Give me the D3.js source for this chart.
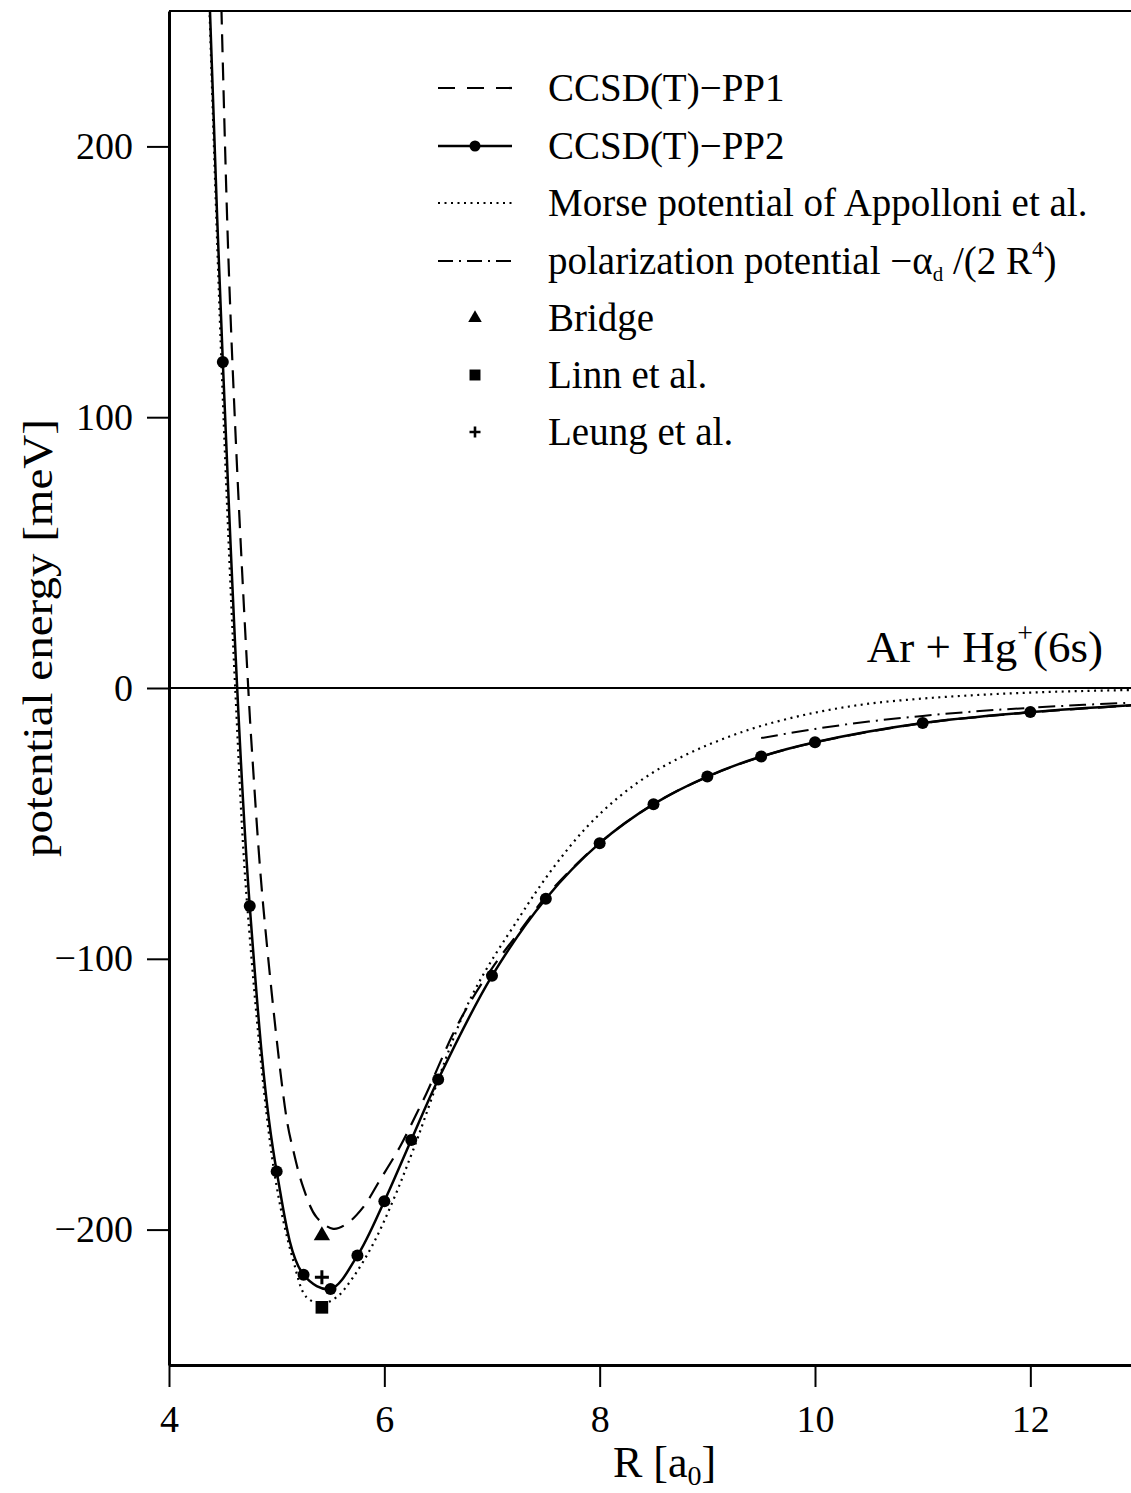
<!DOCTYPE html>
<html>
<head>
<meta charset="utf-8">
<script src="https://cdnjs.cloudflare.com/ajax/libs/d3/7.8.5/d3.min.js"></script>
<style>
  body { margin: 0; background: #fff; }
  svg { display: block; }
  text { font-family: "Liberation Serif", "Times New Roman", serif; fill: #000; }
</style>
</head>
<body>
<svg id="chart" width="1131" height="1493"></svg>
<script>
// CCSD(T)-PP2 computed points (drawn with dots)
var pp2R = [4.5, 4.75, 5.0, 5.25, 5.5, 5.75, 6.0, 6.25, 6.5, 7.0, 7.5, 8.0, 8.5, 9.0, 9.5, 10.0, 11.0, 12.0];
var pp2E = [120.4, -80.5, -178.5, -216.7, -221.9, -209.6, -189.5, -166.9, -144.6, -106.3, -77.8, -57.3, -42.9, -32.7, -25.3, -20.0, -12.9, -8.9];
// ends of the PP2 line beyond the dots
var pp2EndR = [4.37, 13.0];
var pp2EndE = [262, -6.2];

// CCSD(T)-PP1 (dashed)
var pp1R = [4.48, 4.55, 4.63, 4.736, 4.77, 4.876, 5.09, 5.154, 5.246, 5.37, 5.525, 5.649, 5.804, 5.958, 6.144, 6.299, 6.39, 6.64, 6.79, 7.0, 7.32, 7.5, 8.0, 8.5, 9.0, 9.5, 10.0, 11.0, 12.0, 13.0];
var pp1E = [262, 160.9, 83.2, 0, -22.8, -80.8, -158.4, -170.7, -184.3, -195.4, -199.7, -197.9, -191.7, -181.8, -169.5, -157.2, -149.8, -127.6, -116.5, -103.5, -86.5, -77.0, -57.2, -42.9, -32.8, -25.4, -20.1, -13.0, -9.0, -6.3];

// Morse potential of Appolloni et al. (dotted)
var morseR = [4.37, 4.49, 4.615, 4.727, 4.977, 5.154, 5.278, 5.42, 5.556, 5.71, 5.896, 6.082, 6.267, 6.793, 7.257, 7.567, 7.877, 8.186, 8.495, 8.805, 9.114, 9.5, 10.0, 10.5, 11.0, 11.5, 12.0, 12.5, 13.0];
var morseE = [258, 117, 0, -80.5, -178.5, -211.4, -225.0, -227.2, -225.0, -217.6, -205.3, -189.2, -170.7, -115.3, -84.5, -66.5, -51.5, -40.0, -31.2, -24.6, -19.3, -14.0, -9.1, -5.8, -3.9, -2.6, -1.7, -1.1, -0.7];

// polarization potential (dash-dot)
var polR = [9.5, 10.0, 10.5, 11.0, 11.5, 12.0, 12.5, 13.0];
var polE = [-18.5, -15.1, -12.4, -10.3, -8.6, -7.3, -6.2, -5.3];

// single literature values
var refNames = ['Bridge', 'Linn et al.', 'Leung et al.'];
var refR = [5.42, 5.42, 5.42];
var refE = [-202.2, -228.7, -217.6];

var xMajor = [4, 6, 8, 10, 12];
var xMinor = [4.5, 5, 5.5, 6.5, 7, 7.5, 8.5, 9, 9.5, 10.5, 11, 11.5, 12.5];
var yMajor = [-200, -100, 0, 100, 200];
var yMinor = [-240, -220, -180, -160, -140, -120, -80, -60, -40, -20, 20, 40, 60, 80, 120, 140, 160, 180, 220, 240];

d3.select(window).on('load', init);

function zip(a, b) {
    return a.map(function(v, i) { return [v, b[i]]; });
}

function init() {
    var svg = d3.select('#chart');

    var left = 169, right = 1138, top = 11, bottom = 1365;

    var x = d3.scaleLinear().domain([4, 13]).range([left, right]);
    var y = d3.scaleLinear().domain([-250, 250]).range([bottom, top]);

    var fmt = function(d) { return d < 0 ? '\u2212' + Math.abs(d) : '' + d; };

    svg.append('defs').append('clipPath').attr('id', 'plotclip')
        .append('rect')
        .attr('x', left).attr('y', top)
        .attr('width', right - left).attr('height', bottom - top);

    // top frame and zero line
    svg.append('line')
        .attr('x1', left).attr('x2', 1131).attr('y1', top).attr('y2', top)
        .attr('stroke', '#000').attr('stroke-width', 2);
    svg.append('line')
        .attr('x1', left).attr('x2', 1131).attr('y1', y(0)).attr('y2', y(0))
        .attr('stroke', '#000').attr('stroke-width', 2);

    var plot = svg.append('g').attr('clip-path', 'url(#plotclip)');

    var line = d3.line()
        .x(function(d) { return x(d[0]); })
        .y(function(d) { return y(d[1]); })
        .curve(d3.curveCatmullRom.alpha(0.5));

    plot.append('path')
        .datum(zip(morseR, morseE))
        .attr('d', line)
        .attr('fill', 'none').attr('stroke', '#000')
        .attr('stroke-width', 2.2).attr('stroke-dasharray', '2,4.5');

    plot.append('path')
        .datum(zip(polR, polE))
        .attr('d', line)
        .attr('fill', 'none').attr('stroke', '#000')
        .attr('stroke-width', 2).attr('stroke-dasharray', '17,6,2,6');

    plot.append('path')
        .datum(zip(pp1R, pp1E))
        .attr('d', line)
        .attr('fill', 'none').attr('stroke', '#000')
        .attr('stroke-width', 2.2).attr('stroke-dasharray', '18,10');

    var pp2Line = [[pp2EndR[0], pp2EndE[0]]]
        .concat(zip(pp2R, pp2E))
        .concat([[pp2EndR[1], pp2EndE[1]]]);
    plot.append('path')
        .datum(pp2Line)
        .attr('d', line)
        .attr('fill', 'none').attr('stroke', '#000')
        .attr('stroke-width', 2.5);

    plot.selectAll('circle.pp2')
        .data(zip(pp2R, pp2E))
        .enter()
        .append('circle')
        .attr('class', 'pp2')
        .attr('cx', function(d) { return x(d[0]); })
        .attr('cy', function(d) { return y(d[1]); })
        .attr('r', 6);

    // literature points
    var refs = zip(refR, refE);
    plot.append('path')
        .attr('d', d3.symbol(d3.symbolTriangle, 115)())
        .attr('transform', 'translate(' + x(refs[0][0]) + ',' + y(refs[0][1]) + ')');
    plot.append('path')
        .attr('d', d3.symbol(d3.symbolSquare, 160)())
        .attr('transform', 'translate(' + x(refs[1][0]) + ',' + y(refs[1][1]) + ')');
    plot.append('path')
        .attr('d', 'M-7,0H7M0,-7V7')
        .attr('stroke', '#000').attr('stroke-width', 3)
        .attr('transform', 'translate(' + x(refs[2][0]) + ',' + y(refs[2][1]) + ')');

    // axes
    var gx = svg.append('g').attr('transform', 'translate(0,' + bottom + ')');
    gx.call(d3.axisBottom(x).tickValues(xMinor).tickSize(11).tickSizeOuter(0).tickFormat(''));
    gx.call(d3.axisBottom(x).tickValues(xMajor).tickSize(22).tickSizeOuter(0).tickPadding(18).tickFormat(fmt));

    var gy = svg.append('g').attr('transform', 'translate(' + left + ',0)');
    gy.call(d3.axisLeft(y).tickValues(yMinor).tickSize(11).tickSizeOuter(0).tickFormat(''));
    gy.call(d3.axisLeft(y).tickValues(yMajor).tickSize(22).tickSizeOuter(0).tickPadding(14).tickFormat(fmt));

    svg.selectAll('.tick line').attr('stroke-width', 2);
    svg.selectAll('.domain').attr('stroke-width', 3);
    svg.selectAll('.tick text')
        .style('font-family', '"Liberation Serif", "Times New Roman", serif')
        .style('font-size', '38px');

    // axis titles
    var xt = svg.append('text')
        .attr('x', 613).attr('y', 1477)
        .attr('text-anchor', 'start')
        .style('font-size', '44px');
    xt.append('tspan').text('R [a');
    xt.append('tspan').attr('dy', 8).style('font-size', '28px').text('0');
    xt.append('tspan').attr('dy', -8).text(']');

    svg.append('text')
        .attr('transform', 'translate(52,638) scale(1,1.12) rotate(-90)')
        .attr('text-anchor', 'middle')
        .style('font-size', '42px')
        .text('potential energy [meV]');

    // asymptote label
    var asy = svg.append('text')
        .attr('x', 1103).attr('y', 662)
        .attr('text-anchor', 'end')
        .style('font-size', '45px');
    asy.append('tspan').text('Ar + Hg');
    asy.append('tspan').attr('dy', -20).style('font-size', '28px').text('+');
    asy.append('tspan').attr('dy', 20).text('(6s)');

    // legend
    var legY = [88, 146, 203, 261, 318, 375, 432];
    var lx0 = 438, lx1 = 512, tx = 548, mx = 475;
    var leg = svg.append('g');

    function sample(i, dash, w) {
        leg.append('line')
            .attr('x1', lx0).attr('x2', lx1)
            .attr('y1', legY[i]).attr('y2', legY[i])
            .attr('stroke', '#000').attr('stroke-width', w)
            .attr('stroke-dasharray', dash);
    }
    sample(0, '17,12', 2.2);
    sample(1, null, 2.5);
    leg.append('circle').attr('cx', mx).attr('cy', legY[1]).attr('r', 5.5);
    sample(2, '2,4.5', 2.2);
    sample(3, '15,6,2,6', 2);
    leg.append('path').attr('d', d3.symbol(d3.symbolTriangle, 80)())
        .attr('transform', 'translate(' + mx + ',' + legY[4] + ')');
    leg.append('path').attr('d', d3.symbol(d3.symbolSquare, 120)())
        .attr('transform', 'translate(' + mx + ',' + legY[5] + ')');
    leg.append('path').attr('d', 'M-5.5,0H5.5M0,-5.5V5.5')
        .attr('stroke', '#000').attr('stroke-width', 2.6)
        .attr('transform', 'translate(' + mx + ',' + legY[6] + ')');

    var legText = ['CCSD(T)\u2212PP1', 'CCSD(T)\u2212PP2', 'Morse potential of Appolloni et al.', null]
        .concat(refNames);
    legText.forEach(function(t, i) {
        var el = leg.append('text')
            .attr('x', tx).attr('y', legY[i] + 13)
            .style('font-size', '39px');
        if (t !== null) {
            el.text(t);
        } else {
            el.append('tspan').text('polarization potential \u2212\u03b1');
            el.append('tspan').attr('dy', 7).style('font-size', '21px').text('d');
            el.append('tspan').attr('dy', -7).text(' /(2 R');
            el.append('tspan').attr('dy', -17).style('font-size', '23px').text('4');
            el.append('tspan').attr('dy', 17).text(')');
        }
    });
}
</script>
</body>
</html>
